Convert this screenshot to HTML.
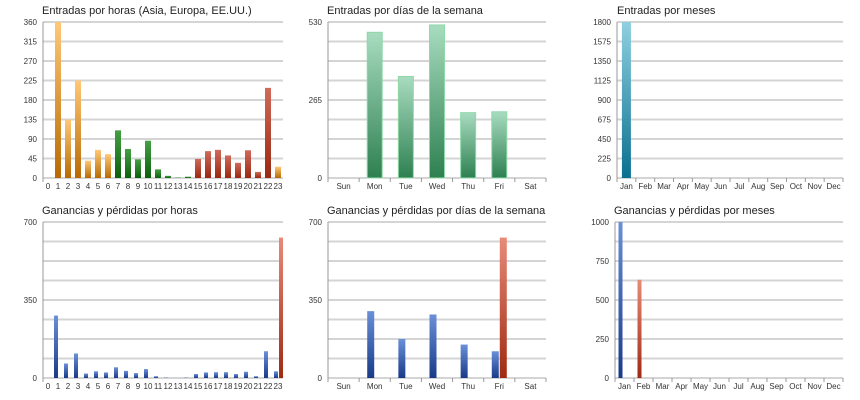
<!DOCTYPE html>
<html><head><meta charset="utf-8"><style>
html,body{margin:0;padding:0;background:#fff;}
svg{display:block;font-family:"Liberation Sans",sans-serif;}
</style></head><body>
<svg id="s" width="860" height="400" xmlns="http://www.w3.org/2000/svg">
<defs>
<linearGradient id="gO" x1="0" y1="0" x2="0" y2="1"><stop offset="0" stop-color="#ffc878"/><stop offset="1" stop-color="#b86a00"/></linearGradient>
<linearGradient id="gG" x1="0" y1="0" x2="0" y2="1"><stop offset="0" stop-color="#45a045"/><stop offset="1" stop-color="#0a600a"/></linearGradient>
<linearGradient id="gR" x1="0" y1="0" x2="0" y2="1"><stop offset="0" stop-color="#d06a5a"/><stop offset="1" stop-color="#9a2810"/></linearGradient>
<linearGradient id="gT" x1="0" y1="0" x2="0" y2="1"><stop offset="0" stop-color="#a8dcc0"/><stop offset="1" stop-color="#2e8050"/></linearGradient>
<linearGradient id="gC" x1="0" y1="0" x2="0" y2="1"><stop offset="0" stop-color="#8ed0e0"/><stop offset="1" stop-color="#0a7090"/></linearGradient>
<linearGradient id="gB" x1="0" y1="0" x2="0" y2="1"><stop offset="0" stop-color="#6a90d8"/><stop offset="1" stop-color="#183a88"/></linearGradient>
<linearGradient id="gRR" x1="0" y1="0" x2="0" y2="1"><stop offset="0" stop-color="#e88a78"/><stop offset="1" stop-color="#a02a12"/></linearGradient>
</defs>
</svg>
<script>
var s=document.getElementById('s'),h='';
function chart(o){
 var L=o.l,R=o.r,T=o.t,B=o.b,n=o.cats.length,cw=(R-L)/n;
 h+='<text x="'+o.tx+'" y="'+(T-8)+'" font-size="11" fill="#222">'+o.title+'</text>';
 for(var i=0;i<=o.ng;i++){var y=B-(B-T)*i/o.ng;
  h+='<line x1="'+L+'" x2="'+R+'" y1="'+y+'" y2="'+y+'" stroke="'+(i%2?'#d4d4d4':'#a8a8a8')+'" stroke-width="'+(i%2?2:1)+'"/>';}
 o.labels.forEach(function(lb){var y=B-(B-T)*lb[0];h+='<text x="'+(L-6)+'" y="'+(y+3)+'" font-size="8" text-anchor="end" fill="#333">'+lb[1]+'</text>';});
 h+='<line x1="'+L+'" x2="'+L+'" y1="'+T+'" y2="'+(B+4)+'" stroke="#999"/>';
 for(var i=0;i<n;i++){var cx=L+cw*(i+.5);
  h+='<text x="'+cx+'" y="'+(B+11)+'" font-size="8" text-anchor="middle" fill="#333">'+o.cats[i]+'</text>';
  if(o.tick)h+='<line x1="'+(L+cw*(i+1))+'" x2="'+(L+cw*(i+1))+'" y1="'+B+'" y2="'+(B+4)+'" stroke="#999"/>';}
 o.bars.forEach(function(b){var cx=L+cw*(b[0]+.5)+(b[3]||0),w=o.bw,hh=(B-T)*b[1]/o.max;
  if(hh<=0)return;h+='<rect x="'+(cx-w/2)+'" y="'+(B-hh)+'" width="'+w+'" height="'+hh+'" fill="url(#'+b[2]+')" stroke="'+(o.sc||'none')+'" stroke-width="1"/>';});
}
var H=[];for(var i=0;i<24;i++)H.push(i);
var v1=[0,360,135,225,40,65,55,110,67,43,86,20,5,1,3,44,62,65,52,35,64,14,208,26];
chart({l:43,r:283,t:22,b:178,tx:42,title:'Entradas por horas (Asia, Europa, EE.UU.)',cats:H,ng:8,max:360,bw:6,
 labels:[0,45,90,135,180,225,270,315,360].map(function(v){return[v/360,v]}),
 bars:v1.map(function(v,i){return[i,v,(i<7||i==23)?'gO':(i<15?'gG':'gR')]})});
chart({l:328,r:546,t:22,b:178,tx:327,title:'Entradas por días de la semana',cats:['Sun','Mon','Tue','Wed','Thu','Fri','Sat'],ng:8,max:530,bw:15,tick:1,sc:'#8fd8a8',
 labels:[[0,0],[.5,265],[1,530]],bars:[[1,495,'gT'],[2,345,'gT'],[3,520,'gT'],[4,222,'gT'],[5,225,'gT']]});
var M=['Jan','Feb','Mar','Apr','May','Jun','Jul','Aug','Sep','Oct','Nov','Dec'];
chart({l:617,r:843,t:22,b:178,tx:617,title:'Entradas por meses',cats:M,ng:8,max:1800,bw:9,tick:1,
 labels:[0,225,450,675,900,1125,1350,1575,1800].map(function(v){return[v/1800,v]}),bars:[[0,1800,'gC']]});
var v4=[0,280,65,110,20,30,25,48,32,22,40,8,2,0,2,18,25,26,26,18,28,8,120,30];
var b4=v4.map(function(v,i){return[i,v,'gB',-2]});b4.push([23,630,'gRR',3]);
chart({l:43,r:283,t:222,b:378,tx:42,title:'Ganancias y pérdidas por horas',cats:H,ng:8,max:700,bw:4,
 labels:[[0,0],[.5,350],[1,700]],bars:b4});
chart({l:328,r:546,t:222,b:378,tx:327,title:'Ganancias y pérdidas por días de la semana',cats:['Sun','Mon','Tue','Wed','Thu','Fri','Sat'],ng:8,max:700,bw:7,tick:1,
 labels:[[0,0],[.5,350],[1,700]],bars:[[1,300,'gB',-4],[2,175,'gB',-4],[3,285,'gB',-4],[4,150,'gB',-4],[5,120,'gB',-4],[5,630,'gRR',4]]});
chart({l:615,r:843,t:222,b:378,tx:614,title:'Ganancias y pérdidas por meses',cats:M,ng:8,max:1000,bw:4,tick:1,
 labels:[0,250,500,750,1000].map(function(v){return[v/1000,v]}),bars:[[0,1000,'gB',-4],[1,630,'gRR',-4]]});
s.insertAdjacentHTML('beforeend',h);
</script>
</body></html>
